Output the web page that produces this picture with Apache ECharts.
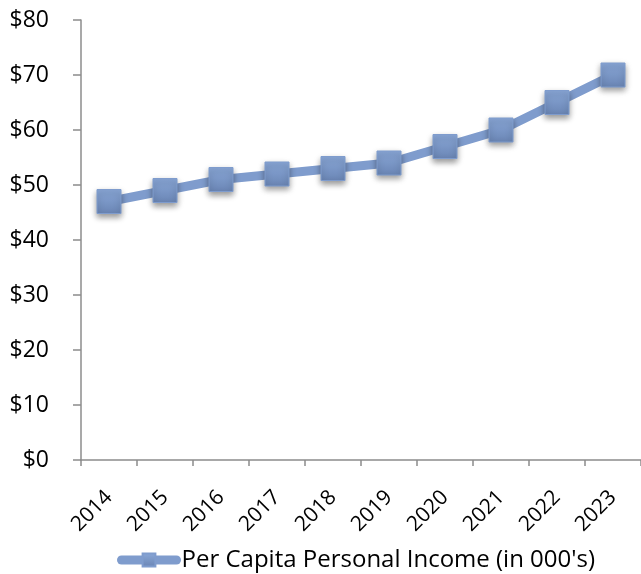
<!DOCTYPE html>
<html><head><meta charset="utf-8">
<script src="https://cdn.jsdelivr.net/npm/echarts@6/dist/echarts.min.js"></script>
<style>html,body{margin:0;padding:0;background:#fff}#c{width:641px;height:574px}</style>
</head><body><div id="c"></div>
<script>
var years = ['2014','2015','2016','2017','2018','2019','2020','2021','2022','2023'];
var income = [47, 49, 51, 52, 53, 54, 57, 60, 65, 70];
var seriesName = "Per Capita Personal Income (in 000's)";
var chart = echarts.init(document.getElementById('c'));
var font = "Open Sans";
var grad = new echarts.graphic.LinearGradient(0,0,0,1,[{offset:0,color:'#8aa8d8'},{offset:1,color:'#6a85b4'}]);
chart.setOption({
  animation:false,
  grid:{left:81, top:20, width:564, height:440, containLabel:false},
  xAxis:{type:'category', data:years, boundaryGap:true,
    axisLine:{lineStyle:{color:'#8c8c8c', width:1.5}},
    axisTick:{show:true, alignWithLabel:false, length:6, lineStyle:{color:'#8c8c8c', width:1.5}},
    axisLabel:{rotate:45, color:'#000', fontFamily:font, fontSize:21, margin:34, interval:0}},
  yAxis:{type:'value', min:0, max:80, interval:10,
    axisLine:{show:true, lineStyle:{color:'#8c8c8c', width:1.5}},
    axisTick:{show:true, length:8, lineStyle:{color:'#8c8c8c', width:1.5}},
    splitLine:{show:false},
    axisLabel:{color:'#000', fontFamily:font, fontSize:23, margin:32, formatter:'${value}'}},
  legend:{top:543, left:112, data:[seriesName], itemWidth:55, itemHeight:16, itemGap:4,
    lineStyle:{width:9, cap:'round', color:'#7f9ccd'},
    textStyle:{color:'#000', fontFamily:font, fontSize:24}},
  series:[{name:seriesName, type:'line', data:income, symbol:'rect', symbolSize:24,
    lineStyle:{color:'#7f9ccd', width:9},
    itemStyle:{color:grad, borderColor:'#7f9ccd', borderWidth:1, shadowColor:'rgba(0,0,0,0.4)', shadowBlur:6, shadowOffsetY:3}}]
});
</script></body></html>
